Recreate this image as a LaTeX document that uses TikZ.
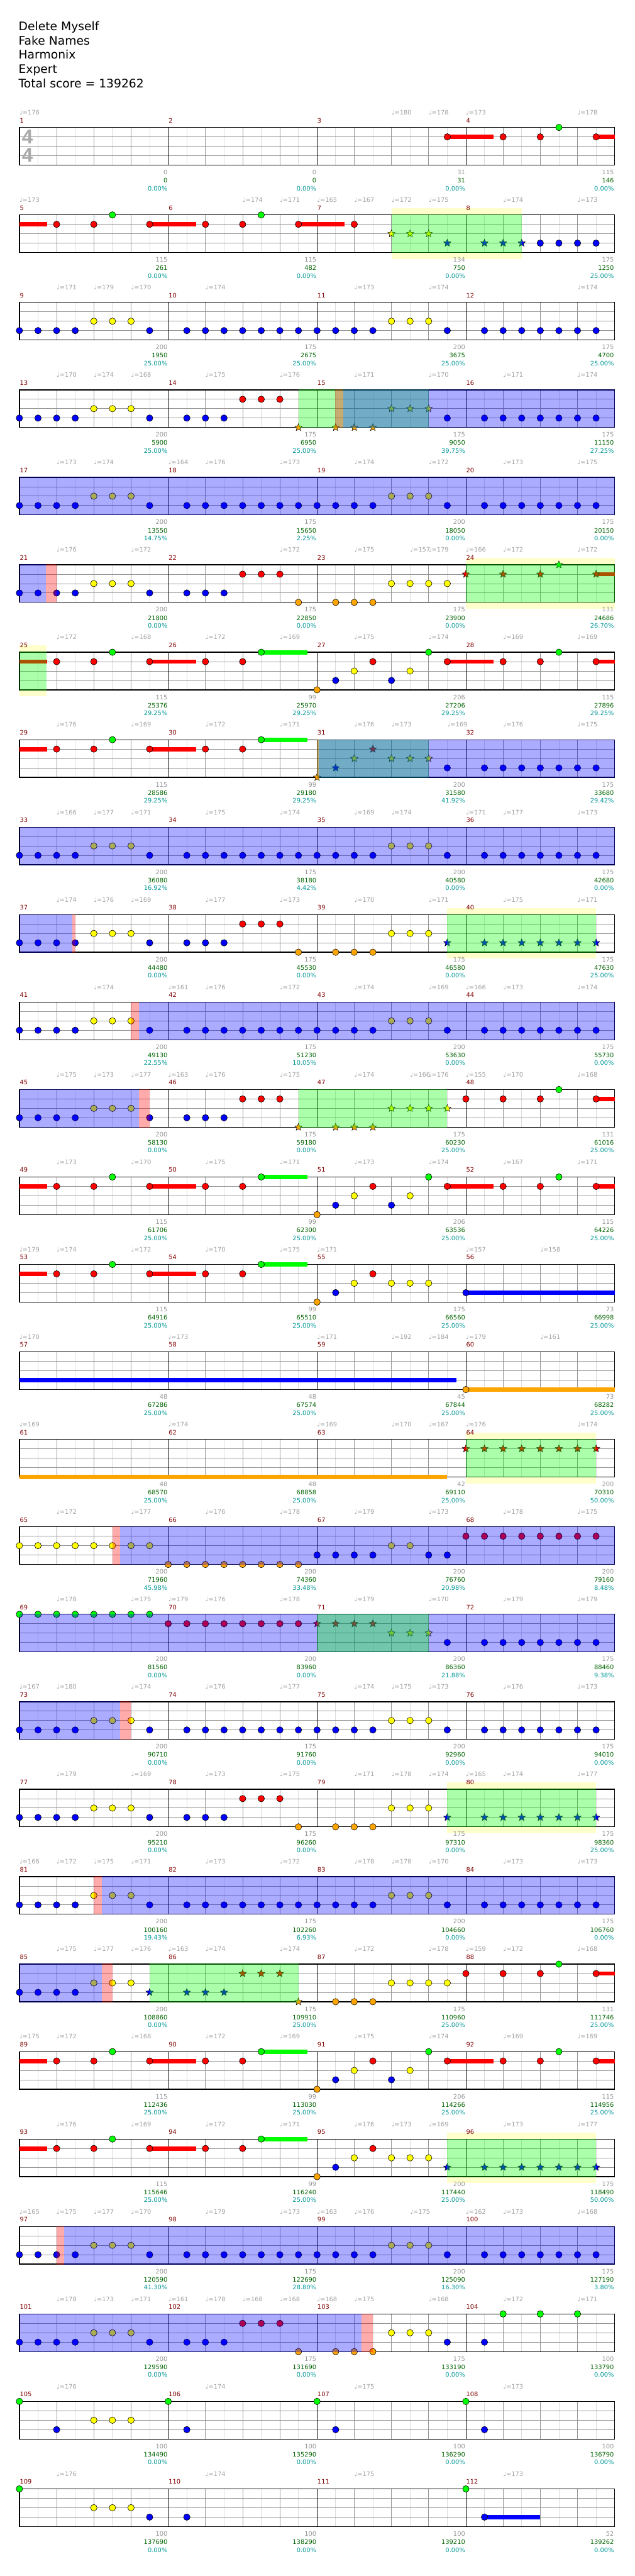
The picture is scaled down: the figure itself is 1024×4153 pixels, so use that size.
\documentclass[tikz,border=0pt]{standalone}
\usepackage{fontspec}
\setmainfont{DejaVu Sans}
\newfontfamily\sigfont{Liberation Sans}
\usetikzlibrary{shapes.geometric}
\definecolor{lane0}{RGB}{0,255,0}
\definecolor{lane1}{RGB}{255,0,0}
\definecolor{lane2}{RGB}{255,255,0}
\definecolor{lane3}{RGB}{0,0,255}
\definecolor{lane4}{RGB}{255,165,0}
\definecolor{tempogray}{RGB}{160,160,160}
\definecolor{measred}{RGB}{128,0,0}
\definecolor{hitgray}{RGB}{150,150,150}
\definecolor{scoregreen}{RGB}{0,100,0}
\definecolor{meterteal}{RGB}{0,150,150}
\definecolor{halocol}{RGB}{255,255,204}
\definecolor{gridgray}{RGB}{150,150,150}
\definecolor{gridlight}{RGB}{220,220,220}
\definecolor{siggray}{RGB}{170,170,170}

% notes, stars, sustains and zones, in row units (x = eighth, y = lane)
\newcommand\nt[2]{\foreach \e in {#2} {\node[fret, fill=lane#1] at (\e,#1) {};}}
\newcommand\spst[2]{\foreach \e in {#2} {\node[spstar, fill=lane#1] at (\e,#1) {};}}
\newcommand\sus[3]{\fill[lane#1] (#2,{#1-0.23}) rectangle (#3,{#1+0.23});}
\newcommand\spzone[2]{\fill[lane0, fill opacity=0.33] (#1,-0.04) rectangle (#2,4.04);}
\newcommand\actzone[2]{\fill[lane3, fill opacity=0.33] (#1,-0.04) rectangle (#2,4.04);}
\newcommand\whamzone[2]{\fill[lane1, fill opacity=0.33] (#1,-0.04) rectangle (#2,4.04);}
\newcommand\halozone[2]{\fill[halocol] (#1,-0.71) rectangle (#2,4.69);}
\newcommand\tempos[1]{\foreach \e/\tv in {#1} {\node[tempo] at (\e,-1.35) {♩=\tv};}}
\newcommand\scores[1]{\foreach \ka/\kb/\kc/\kd in {#1} {
  \node[hitcount] at ({8*\ka},5.01) {\kb};
  \node[runscore] at ({8*\ka},5.89) {\kc};
  \node[spmeter] at ({8*\ka},6.72) {\kd\%};}}
\newcommand\staff[1]{
  \fill[white] (0,0) rectangle (32,4);
  \foreach \i in {1,3,...,31} \draw[halfbeat] (\i,0) -- (\i,4);
  \foreach \i in {2,4,6,10,12,14,18,20,22,26,28,30} \draw[beat] (\i,0) -- (\i,4);
  \foreach \j in {1,2,3} \draw[beat] (0,\j) -- (32,\j);
  \foreach \i in {8,16,24} \draw[barline] (\i,0) -- (\i,4);
  \draw[staffframe] (0,0) rectangle (32,4);
  \foreach \k in {0,...,3} {\pgfmathtruncatemacro\mnum{#1+\k}
    \node[measnum] at ({8*\k},-0.51) {\mnum};}}
\newcommand\patA{\nt3{0,1,2,3,7,9,10,11,12,13,14,15,16,17,18,19,23,25,26,27,28,29,30,31}\nt2{4,5,6,20,21,22}}
\newcommand\patC{\sus1{0}{1.5}\sus1{7}{9.5}\sus1{23}{25.5}\sus1{31}{32}\sus0{13}{15.5}
  \nt1{2,4,7,10,12,19,23,26,28,31}\nt0{5,13,22,29}\nt4{16}\nt3{17,20}\nt2{18,21}}

\begin{document}
\begin{tikzpicture}[x=1pt, y=-1pt,
    chartrow/.style={shift={(31.3,{205.5+(#1-1)*141})}, x=30pt, y=-15.1667pt},
    fret/.style={circle, draw=black, line width=0.6pt, inner sep=0pt, minimum size=10.5pt},
    spstar/.style={star, star points=5, star point ratio=2.3, draw=black, line width=0.5pt, inner sep=0pt, minimum size=12.5pt},
    halfbeat/.style={gridlight, line width=0.8pt},
    beat/.style={gridgray, line width=0.8pt},
    barline/.style={black, line width=1pt},
    staffframe/.style={black, line width=1.3pt},
    tempo/.style={anchor=base west, inner sep=0pt, text=tempogray, font=\fontsize{10}{12}\selectfont},
    measnum/.style={anchor=base west, inner sep=0pt, xshift=0.5pt, text=measred, font=\fontsize{10}{12}\selectfont},
    hitcount/.style={anchor=base east, inner sep=0pt, xshift=-1pt, text=hitgray, font=\fontsize{10}{12}\selectfont},
    runscore/.style={anchor=base east, inner sep=0pt, xshift=-1pt, text=scoregreen, font=\fontsize{10}{12}\selectfont},
    spmeter/.style={anchor=base east, inner sep=0pt, xshift=-1pt, text=meterteal, font=\fontsize{10}{12}\selectfont},
    halo/.style={fill=halocol},
    header/.style={anchor=base west, inner sep=0pt, font=\fontsize{19}{23}\selectfont},
    timesig/.style={inner sep=0pt, text=siggray, font=\sigfont\bfseries\fontsize{32}{32}\selectfont}
]
\useasboundingbox (0,0) rectangle (1024,4153);
\fill[white] (0,0) rectangle (1024,4153);

% song header
\node[header] (song) at (29.8,49.3) {Delete Myself};
\node[header] (artist) at (29.8,72.3) {Fake Names};
\node[header] (charter) at (29.8,95.3) {Harmonix};
\node[header] (level) at (29.8,118.3) {Expert};
\node[header] (total) at (29.8,141.3) {Total score = 139262};

% measures 1-4
\begin{scope}[chartrow=1]
\staff{1}
\node[timesig] (sigtop) at (0.43,0.99) {4};
\node[timesig] (sigbot) at (0.43,2.95) {4};
\tempos{0/176,20/180,22/178,24/173,30/178}
\sus1{23}{25.48}\sus1{31}{32}
\nt1{23,26,28,31}\nt0{29}
\scores{1/0/0/0.00,2/0/0/0.00,3/31/31/0.00,4/115/146/0.00}
\end{scope}

% measures 5-8
\begin{scope}[chartrow=2]
\halozone{20}{27}
\staff{5}
\tempos{0/173,12/174,14/171,16/165,18/167,20/172,22/175,26/174,30/173}
\sus1{0}{1.49}\sus1{7}{9.49}\sus1{15}{17.48}
\nt1{2,4,7,10,12,15,18}\nt0{5,13}
\spst2{20,21,22}\spst3{23,25,26,27}\nt3{28,29,30,31}
\spzone{20}{27}
\scores{1/115/261/0.00,2/115/482/0.00,3/134/750/0.00,4/175/1250/25.00}
\end{scope}

% measures 9-12
\begin{scope}[chartrow=3]
\staff{9}
\tempos{2/171,4/179,6/170,10/174,18/173,22/174,30/174}
\patA
\scores{1/200/1950/25.00,2/175/2675/25.00,3/200/3675/25.00,4/175/4700/25.00}
\end{scope}

% measures 13-16
\begin{scope}[chartrow=4]
\staff{13}
\tempos{2/170,4/174,6/168,10/175,14/176,18/171,22/170,26/171,30/174}
\nt3{0,1,2,3,7,9,10,11,23,25,26,27,28,29,30,31}\nt2{4,5,6}\nt1{12,13,14}
\spst4{15,17,18,19}\spst2{20,21,22}
\spzone{15}{22}\whamzone{16.98}{17.42}\actzone{17.42}{32}
\scores{1/200/5900/25.00,2/175/6950/25.00,3/175/9050/39.75,4/175/11150/27.25}
\end{scope}

% measures 17-20
\begin{scope}[chartrow=5]
\staff{17}
\tempos{2/173,4/174,8/164,10/176,14/173,18/174,22/172,26/173,30/175}
\patA
\actzone{0}{32}
\scores{1/200/13550/14.75,2/175/15650/2.25,3/200/18050/0.00,4/175/20150/0.00}
\end{scope}

% measures 21-24
\begin{scope}[chartrow=6]
\halozone{24}{32}
\staff{21}
\tempos{2/176,6/172,14/172,18/175,21/157,22/179,24/166,26/172,30/172}
\nt3{0,1,2,3,7,9,10,11}\nt2{4,5,6,20,21,22,23}\nt1{12,13,14}\nt4{15,17,18,19}
\sus1{31}{32}\spst1{24,26,28,31}\spst0{29}
\actzone{0}{1.42}\whamzone{1.42}{2}\spzone{24}{32}
\scores{1/200/21800/0.00,2/175/22850/0.00,3/175/23900/0.00,4/131/24686/26.70}
\end{scope}

% measures 25-28
\begin{scope}[chartrow=7]
\halozone{0}{1.46}
\staff{25}
\tempos{2/172,6/168,10/172,14/169,18/175,22/174,26/169,30/169}
\patC
\spzone{0}{1.46}
\scores{1/115/25376/29.25,2/99/25970/29.25,3/206/27206/29.25,4/115/27896/29.25}
\end{scope}

% measures 29-32
\begin{scope}[chartrow=8]
\staff{29}
\tempos{2/176,6/169,10/172,14/171,18/176,20/173,23/169,26/176,30/175}
\sus1{0}{1.5}\sus1{7}{9.5}\sus0{13}{15.5}
\nt1{2,4,7,10,12}\nt0{5,13}
\spst4{16}\spst3{17}\spst2{18,20,21,22}\spst1{19}
\nt3{23,25,26,27,28,29,30,31}
\spzone{16}{22}\whamzone{16}{16.1}\actzone{16.1}{32}
\scores{1/115/28586/29.25,2/99/29180/29.25,3/200/31580/41.92,4/175/33680/29.42}
\end{scope}

% measures 33-36
\begin{scope}[chartrow=9]
\staff{33}
\tempos{2/166,4/177,6/171,10/175,14/174,18/169,20/174,24/171,26/177,30/173}
\patA
\actzone{0}{32}
\scores{1/200/36080/16.92,2/175/38180/4.42,3/200/40580/0.00,4/175/42680/0.00}
\end{scope}

% measures 37-40
\begin{scope}[chartrow=10]
\halozone{23}{31}
\staff{37}
\tempos{2/174,4/176,6/169,10/177,14/173,18/170,22/171,26/175,30/171}
\nt3{0,1,2,3,7,9,10,11}\nt2{4,5,6,20,21,22}\nt1{12,13,14}\nt4{15,17,18,19}
\spst3{23,25,26,27,28,29,30,31}
\actzone{0}{2.83}\whamzone{2.83}{3}\spzone{23}{31}
\scores{1/200/44480/0.00,2/175/45530/0.00,3/175/46580/0.00,4/175/47630/25.00}
\end{scope}

% measures 41-44
\begin{scope}[chartrow=11]
\staff{41}
\tempos{4/174,8/161,10/176,14/172,18/174,22/169,24/166,26/173,30/174}
\patA
\whamzone{6}{6.43}\actzone{6.43}{32}
\scores{1/200/49130/22.55,2/175/51230/10.05,3/200/53630/0.00,4/175/55730/0.00}
\end{scope}

% measures 45-48
\begin{scope}[chartrow=12]
\staff{45}
\tempos{2/175,4/173,6/177,8/163,10/176,14/175,18/174,21/166,22/176,24/155,26/170,30/168}
\sus1{31}{32}
\nt3{0,1,2,3,7,9,10,11}\nt2{4,5,6}\nt1{12,13,14,24,26,28,31}\nt0{29}
\spst4{15,17,18,19}\spst2{20,21,22,23}
\actzone{0}{6.43}\whamzone{6.43}{7}\spzone{15}{23}
\scores{1/200/58130/0.00,2/175/59180/0.00,3/175/60230/25.00,4/131/61016/25.00}
\end{scope}

% measures 49-52
\begin{scope}[chartrow=13]
\staff{49}
\tempos{2/173,6/170,10/175,14/171,18/173,22/174,26/167,30/171}
\patC
\scores{1/115/61706/25.00,2/99/62300/25.00,3/206/63536/25.00,4/115/64226/25.00}
\end{scope}

% measures 53-56
\begin{scope}[chartrow=14]
\staff{53}
\tempos{0/179,2/174,6/172,10/170,14/175,16/171,24/157,28/158}
\sus1{0}{1.5}\sus1{7}{9.5}\sus0{13}{15.5}\sus3{24}{32}
\nt1{2,4,7,10,12,19}\nt0{5,13}\nt4{16}\nt3{17,24}\nt2{18,20,21,22}
\scores{1/115/64916/25.00,2/99/65510/25.00,3/175/66560/25.00,4/73/66998/25.00}
\end{scope}

% measures 57-60
\begin{scope}[chartrow=15]
\staff{57}
\tempos{0/170,8/173,16/171,20/192,22/184,24/179,28/161}
\sus3{0}{23.5}\sus4{24}{32}\nt4{24}
\scores{1/48/67286/25.00,2/48/67574/25.00,3/45/67844/25.00,4/73/68282/25.00}
\end{scope}

% measures 61-64
\begin{scope}[chartrow=16]
\halozone{24}{31}
\staff{61}
\tempos{0/169,8/174,16/169,20/170,22/167,24/176,30/174}
\sus4{0}{23}
\spst1{24,25,26,27,28,29,30,31}
\spzone{24}{31}
\scores{1/48/68570/25.00,2/48/68858/25.00,3/42/69110/25.00,4/200/70310/50.00}
\end{scope}

% measures 65-68
\begin{scope}[chartrow=17]
\staff{65}
\tempos{2/172,6/177,10/176,14/178,18/179,22/173,26/178,30/175}
\nt2{0,1,2,3,4,5,6,7,20,21}\nt4{8,9,10,11,12,13,14,15}\nt3{16,17,18,19,22,23}\nt1{24,25,26,27,28,29,30,31}
\whamzone{5}{5.4}\actzone{5.4}{32}
\scores{1/200/71960/45.98,2/200/74360/33.48,3/200/76760/20.98,4/200/79160/8.48}
\end{scope}

% measures 69-72
\begin{scope}[chartrow=18]
\staff{69}
\tempos{2/178,6/175,8/179,10/176,14/178,18/179,22/170,26/179,30/179}
\nt0{0,1,2,3,4,5,6,7}\nt1{8,9,10,11,12,13,14,15}
\spst1{16,17,18,19}\spst2{20,21,22}\nt3{23,25,26,27,28,29,30,31}
\actzone{0}{32}\spzone{16}{22}
\scores{1/200/81560/0.00,2/200/83960/0.00,3/200/86360/21.88,4/175/88460/9.38}
\end{scope}

% measures 73-76
\begin{scope}[chartrow=19]
\staff{73}
\tempos{0/167,2/180,6/174,10/176,14/177,18/174,20/175,22/173,26/176,30/173}
\patA
\actzone{0}{5.42}\whamzone{5.42}{6}
\scores{1/200/90710/0.00,2/175/91760/0.00,3/200/92960/0.00,4/175/94010/0.00}
\end{scope}

% measures 77-80
\begin{scope}[chartrow=20]
\halozone{23}{31}
\staff{77}
\tempos{2/179,6/169,10/173,14/175,18/171,20/178,22/174,24/165,26/174,30/177}
\nt3{0,1,2,3,7,9,10,11}\nt2{4,5,6,20,21,22}\nt1{12,13,14}\nt4{15,17,18,19}
\spst3{23,25,26,27,28,29,30,31}
\spzone{23}{31}
\scores{1/200/95210/0.00,2/175/96260/0.00,3/175/97310/0.00,4/175/98360/25.00}
\end{scope}

% measures 81-84
\begin{scope}[chartrow=21]
\staff{81}
\tempos{0/166,2/172,4/175,6/171,10/173,14/172,18/178,20/178,22/170,26/173,30/173}
\patA
\whamzone{4}{4.42}\actzone{4.42}{32}
\scores{1/200/100160/19.43,2/175/102260/6.93,3/200/104660/0.00,4/175/106760/0.00}
\end{scope}

% measures 85-88
\begin{scope}[chartrow=22]
\staff{85}
\tempos{2/175,4/177,6/176,8/163,10/174,14/174,18/172,22/178,24/159,26/172,30/168}
\sus1{31}{32}
\nt3{0,1,2,3}\nt2{4,5,6,20,21,22,23}\nt4{17,18,19}\nt1{24,26,28,31}\nt0{29}
\spst3{7,9,10,11}\spst1{12,13,14}\spst4{15}
\actzone{0}{4.42}\whamzone{4.42}{5}\spzone{7}{15}
\scores{1/200/108860/0.00,2/175/109910/25.00,3/175/110960/25.00,4/131/111746/25.00}
\end{scope}

% measures 89-92
\begin{scope}[chartrow=23]
\staff{89}
\tempos{0/175,2/172,6/168,10/172,14/169,18/175,22/174,26/169,30/169}
\patC
\scores{1/115/112436/25.00,2/99/113030/25.00,3/206/114266/25.00,4/115/114956/25.00}
\end{scope}

% measures 93-96
\begin{scope}[chartrow=24]
\halozone{23}{31}
\staff{93}
\tempos{2/176,6/169,10/172,14/171,18/176,20/173,22/169,26/173,30/177}
\sus1{0}{1.5}\sus1{7}{9.5}\sus0{13}{15.5}
\nt1{2,4,7,10,12,19}\nt0{5,13}\nt4{16}\nt3{17}\nt2{18,20,21,22}
\spst3{23,25,26,27,28,29,30,31}
\spzone{23}{31}
\scores{1/115/115646/25.00,2/99/116240/25.00,3/200/117440/25.00,4/175/118490/50.00}
\end{scope}

% measures 97-100
\begin{scope}[chartrow=25]
\staff{97}
\tempos{0/165,2/175,4/177,6/170,10/179,14/173,16/163,18/176,21/175,24/162,26/173,30/168}
\patA
\whamzone{2}{2.42}\actzone{2.42}{32}
\scores{1/200/120590/41.30,2/175/122690/28.80,3/200/125090/16.30,4/175/127190/3.80}
\end{scope}

% measures 101-104
\begin{scope}[chartrow=26]
\staff{101}
\tempos{2/178,4/173,6/171,8/161,10/178,12/168,14/168,16/168,18/175,22/168,26/172,30/171}
\nt3{0,1,2,3,7,9,10,11,23,25}\nt2{4,5,6,20,21,22}\nt1{12,13,14}\nt4{15,17,18,19}\nt0{26,28,30}
\actzone{0}{18.4}\whamzone{18.4}{19}
\scores{1/200/129590/0.00,2/175/131690/0.00,3/175/133190/0.00,4/100/133790/0.00}
\end{scope}

% measures 105-108
\begin{scope}[chartrow=27]
\staff{105}
\tempos{2/176,10/174,18/175,26/173}
\nt0{0,8,16,24}\nt3{2,9,17,25}\nt2{4,5,6}
\scores{1/100/134490/0.00,2/100/135290/0.00,3/100/136290/0.00,4/100/136790/0.00}
\end{scope}

% measures 109-112
\begin{scope}[chartrow=28]
\staff{109}
\tempos{2/176,10/174,18/175,26/173}
\sus3{25}{28}
\nt0{0,24}\nt2{4,5,6}\nt3{7,9,25}
\scores{1/100/137690/0.00,2/100/138290/0.00,3/100/139210/0.00,4/52/139262/0.00}
\end{scope}
\end{tikzpicture}
\end{document}
